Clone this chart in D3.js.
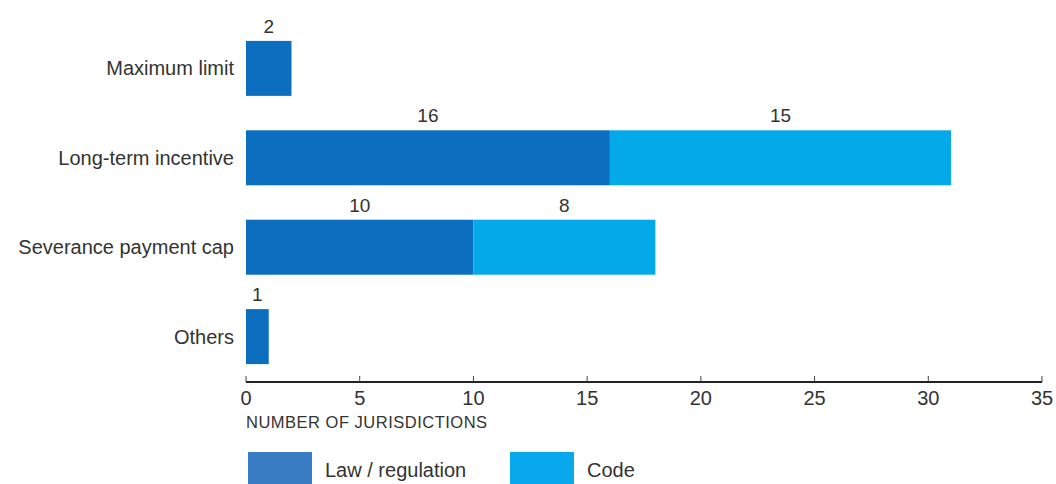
<!DOCTYPE html>
<html>
<head>
<meta charset="utf-8">
<script src="https://cdn.jsdelivr.net/npm/d3@7"></script>
<style>
  body { margin: 0; background: #fff; }
  text { font-family: "Liberation Sans", Arial, sans-serif; fill: #333; }
</style>
</head>
<body>
<div id="chart"></div>
<script>
// data
var categories = ["Maximum limit", "Long-term incentive", "Severance payment cap", "Others"];
var lawValues = [2, 16, 10, 1];
var codeValues = [0, 15, 8, 0];
var seriesNames = ["Law / regulation", "Code"];
var xTicks = [0, 5, 10, 15, 20, 25, 30, 35];

var svgWidth = 1056, svgHeight = 484;

var svg = d3.select("#chart").append("svg")
  .attr("width", svgWidth)
  .attr("height", svgHeight);

var x = d3.scaleLinear().domain([0, 35]).range([246, 1042]);
var y = d3.scaleBand().domain(categories).range([23, 382]).paddingInner(0.385).paddingOuter(0.2);

var colors = {law: "#0b6ebe", code: "#04a9ea"};

var rows = categories.map(function(c, i) {
  return {cat: c, law: lawValues[i], code: codeValues[i]};
});

// law bars
svg.selectAll(".law").data(rows).enter().append("rect")
  .attr("x", x(0))
  .attr("y", function(d) { return y(d.cat); })
  .attr("width", function(d) { return x(d.law) - x(0); })
  .attr("height", y.bandwidth())
  .attr("fill", colors.law);

// code bars
svg.selectAll(".code").data(rows.filter(function(d) { return d.code > 0; })).enter().append("rect")
  .attr("x", function(d) { return x(d.law); })
  .attr("y", function(d) { return y(d.cat); })
  .attr("width", function(d) { return x(d.law + d.code) - x(d.law); })
  .attr("height", y.bandwidth())
  .attr("fill", colors.code);

// value labels
var labels = [];
rows.forEach(function(d) {
  labels.push({cat: d.cat, v: d.law, mid: d.law / 2});
  if (d.code > 0) labels.push({cat: d.cat, v: d.code, mid: d.law + d.code / 2});
});
svg.selectAll(".val").data(labels).enter().append("text")
  .attr("x", function(d) { return x(d.mid); })
  .attr("y", function(d) { return y(d.cat) - 8; })
  .attr("text-anchor", "middle")
  .style("font-size", "19px")
  .text(function(d) { return d.v; });

// category labels
svg.selectAll(".cat").data(categories).enter().append("text")
  .attr("x", 234)
  .attr("y", function(d) { return y(d) + y.bandwidth() / 2; })
  .attr("dy", "0.35em")
  .attr("text-anchor", "end")
  .style("font-size", "20px")
  .text(function(d) { return d; });

// x axis
var axis = svg.append("g").attr("transform", "translate(0,382)");
axis.append("line")
  .attr("x1", x(0)).attr("x2", x(35))
  .attr("stroke", "#222").attr("stroke-width", 2);
axis.selectAll(".tick").data(xTicks).enter().append("line")
  .attr("x1", function(d) { return x(d); }).attr("x2", function(d) { return x(d); })
  .attr("y1", 0).attr("y2", -6)
  .attr("stroke", "#444").attr("stroke-width", 1);
axis.selectAll(".tl").data(xTicks).enter().append("text")
  .attr("x", function(d) { return x(d); })
  .attr("y", 23)
  .attr("text-anchor", "middle")
  .style("font-size", "20px")
  .text(function(d) { return d; });

svg.append("text")
  .attr("x", 246).attr("y", 428)
  .style("font-size", "16.5px")
  .style("letter-spacing", "0.5px")
  .text("NUMBER OF JURISDICTIONS");

// legend
var legendX = [248, 510];
var legendColors = ["#3a7cc3", "#07a8ec"];
seriesNames.forEach(function(name, i) {
  svg.append("rect")
    .attr("x", legendX[i]).attr("y", 452)
    .attr("width", 64).attr("height", 34)
    .attr("fill", legendColors[i]);
  svg.append("text")
    .attr("x", legendX[i] + 77).attr("y", 477)
    .style("font-size", "20px")
    .text(name);
});
</script>
</body>
</html>
